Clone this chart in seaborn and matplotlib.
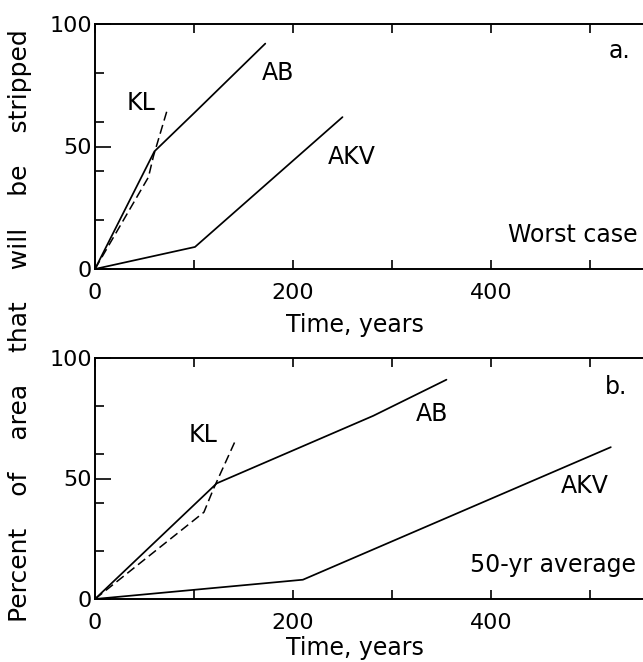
import numpy as np
import pandas as pd
import matplotlib
matplotlib.use("Agg")
import matplotlib.pyplot as plt
import seaborn as sns
from matplotlib.ticker import FixedLocator, FuncFormatter

# ---- data ----
# Panel a: worst case
a_ab_x = [0, 60, 101, 172]
a_ab_y = [0, 48, 64, 92]
a_kl_x = [0, 54, 59, 73]
a_kl_y = [0, 37.5, 46, 65]
a_akv_x = [0, 101, 250]
a_akv_y = [0, 9, 62]

# Panel b: 50-yr average
b_ab_x = [0, 123, 281, 355]
b_ab_y = [0, 48, 76, 91]
b_kl_x = [0, 110, 120, 141]
b_kl_y = [0, 36, 46, 65]
b_akv_x = [0, 210, 521]
b_akv_y = [0, 8, 63]

x_major = [0, 100, 200, 300, 400, 500, 600]
x_labels = {0: "0", 200: "200", 400: "400"}
y_major = [0, 50, 100]
y_minor = [20, 40, 60, 80]

sns.set_style("ticks")
plt.rcParams["font.family"] = ["DejaVu Sans"]
plt.rcParams.update({
    "text.color": "black",
    "axes.labelcolor": "black",
    "axes.edgecolor": "black",
    "xtick.color": "black",
    "ytick.color": "black",
})

W, H = 643, 662
fig = plt.figure(figsize=(W / 100, H / 100), dpi=100)

def px_axes(left, top, bottom, right):
    return [left / W, 1 - bottom / H, (right - left) / W, (bottom - top) / H]

ax1 = fig.add_axes(px_axes(95, 24, 269, 689))
ax2 = fig.add_axes(px_axes(95, 358, 599, 689))

def draw(ax, ab, kl, akv):
    for xs, ys in (ab, akv):
        df = pd.DataFrame({"x": xs, "y": ys})
        sns.lineplot(data=df, x="x", y="y", ax=ax, color="black", lw=1.25,
                     sort=False, estimator=None)
    df = pd.DataFrame({"x": kl[0], "y": kl[1]})
    sns.lineplot(data=df, x="x", y="y", ax=ax, color="black", lw=1.1,
                 sort=False, estimator=None, linestyle=(0, (6, 3)))

draw(ax1, (a_ab_x, a_ab_y), (a_kl_x, a_kl_y), (a_akv_x, a_akv_y))
draw(ax2, (b_ab_x, b_ab_y), (b_kl_x, b_kl_y), (b_akv_x, b_akv_y))

for ax in (ax1, ax2):
    ax.set_xlim(0, 600)
    ax.set_ylim(0, 100)
    ax.set_xlabel("")
    ax.set_ylabel("")
    for s in ax.spines.values():
        s.set_visible(True)
        s.set_linewidth(1.4)
        s.set_color("black")
    ax.xaxis.set_major_locator(FixedLocator(x_major))
    ax.xaxis.set_major_formatter(FuncFormatter(lambda v, p: x_labels.get(int(round(v)), "")))
    ax.yaxis.set_major_locator(FixedLocator(y_major))
    ax.yaxis.set_minor_locator(FixedLocator(y_minor))
    ax.tick_params(axis="x", which="major", direction="in", length=6.5, width=1.2,
                   top=True, bottom=True, labelsize=16, pad=10, colors="black")
    ax.tick_params(axis="y", which="major", direction="in", length=11.5, width=1.2,
                   left=True, right=True, labelsize=16, pad=2, colors="black")
    ax.tick_params(axis="y", which="minor", direction="in", length=6.5, width=1.2,
                   left=True, right=True, colors="black")

fs = 17
# panel a annotations
ax1.text(31.5, 65, "KL", fontsize=fs, ha="left", va="baseline")
ax1.text(169, 77, "AB", fontsize=fs, ha="left", va="baseline")
ax1.text(235, 43, "AKV", fontsize=fs, ha="left", va="baseline")
ax1.text(519, 86, "a.", fontsize=fs, ha="left", va="baseline")
ax1.text(548, 11, "Worst case", fontsize=fs, ha="right", va="baseline")
# panel b annotations
ax2.text(94.5, 65, "KL", fontsize=fs, ha="left", va="baseline")
ax2.text(324, 74, "AB", fontsize=fs, ha="left", va="baseline")
ax2.text(471, 44, "AKV", fontsize=fs, ha="left", va="baseline")
ax2.text(515, 85, "b.", fontsize=fs, ha="left", va="baseline")
ax2.text(546, 11, "50-yr average", fontsize=fs, ha="right", va="baseline")

# axis titles
fig.text(355 / W, 1 - 332 / H, "Time, years", fontsize=17, ha="center", va="baseline")
fig.text(355 / W, 1 - 655 / H, "Time, years", fontsize=17, ha="center", va="baseline")
fig.text(20 / W, 1 - 326 / H, "Percent    of    area    that    will    be    stripped",
         fontsize=18, rotation=90, ha="center", va="center")

fig.savefig("out.png", dpi=100)
